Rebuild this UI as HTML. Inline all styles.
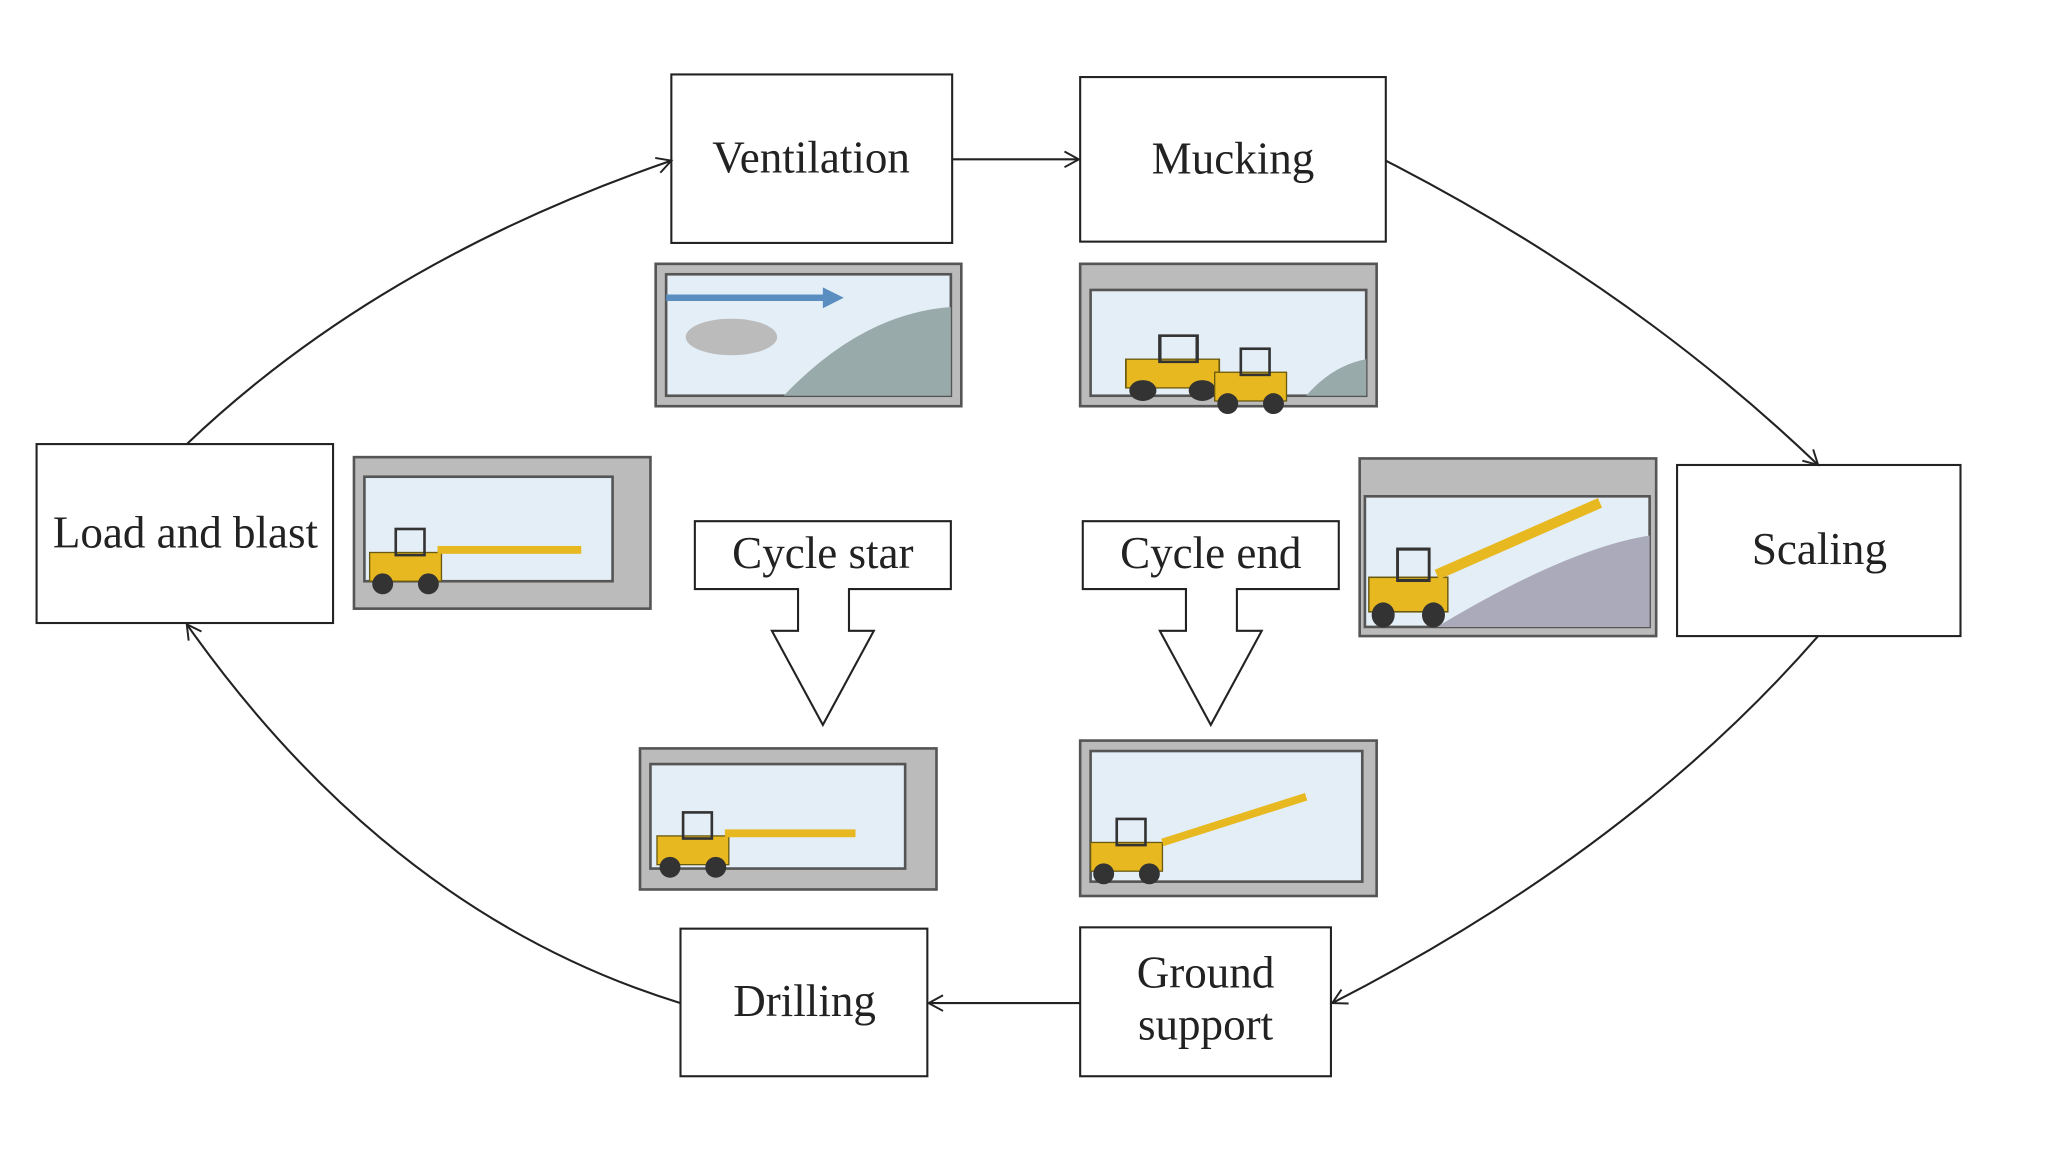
<!DOCTYPE html>
<html><head><meta charset="utf-8"><style>
html,body{margin:0;padding:0;background:#fff;width:2048px;height:1152px;overflow:hidden}
svg{display:block}
text{font-family:"Liberation Serif",serif;fill:#222}
</style></head><body>
<svg width="2048" height="1152" viewBox="0 0 1568 882" xmlns="http://www.w3.org/2000/svg">
<defs>
<marker id="a" markerWidth="14" markerHeight="14" refX="12" refY="7" orient="auto" markerUnits="userSpaceOnUse">
<path d="M1,1 L12,7 L1,13" fill="none" stroke="#222" stroke-width="1.5"/></marker>
<g id="veh">
<rect x="0" y="10" width="55" height="22" fill="#e8b820" stroke="#6a5a10" stroke-width="1"/>
<rect x="20" y="-8" width="22" height="20" fill="none" stroke="#333" stroke-width="2"/>
<circle cx="10" cy="34" r="8" fill="#333"/><circle cx="45" cy="34" r="8" fill="#333"/>
</g>
</defs>
<g fill="none" stroke="#222" stroke-width="1.6">
<rect x="514" y="57" width="215" height="129"/>
<rect x="827" y="59" width="234" height="126"/>
<rect x="1284" y="356" width="217" height="131"/>
<rect x="28" y="340" width="227" height="137"/>
<rect x="521" y="711" width="189" height="113"/>
<rect x="827" y="710" width="192" height="114"/>
<path d="M729,122 L826,122" marker-end="url(#a)"/>
<path d="M827,768 L711,768" marker-end="url(#a)"/>
<path d="M143,340 Q290,200 514,123" marker-end="url(#a)"/>
<path d="M1061,123 Q1250,220 1392,356" marker-end="url(#a)"/>
<path d="M1392,487 Q1250,650 1020,768" marker-end="url(#a)"/>
<path d="M521,768 Q300,700 143,478" marker-end="url(#a)"/>
<path d="M532,399 H728 V451 H650 V483 H669 L630,555 L591,483 H611 V451 H532 Z" fill="#fff"/>
<path d="M829,399 H1025 V451 H947 V483 H966 L927,555 L888,483 H908 V451 H829 Z" fill="#fff"/>
</g>
<g stroke="#555" stroke-width="2">
<rect x="502" y="202" width="234" height="109" fill="#bbb"/><rect x="510" y="210" width="218" height="93" fill="#e4eef6"/>
<rect x="827" y="202" width="227" height="109" fill="#bbb"/><rect x="835" y="222" width="211" height="81" fill="#e4eef6"/>
<rect x="271" y="350" width="227" height="116" fill="#bbb"/><rect x="279" y="365" width="190" height="80" fill="#e4eef6"/>
<rect x="1041" y="351" width="227" height="136" fill="#bbb"/><rect x="1045" y="380" width="218" height="100" fill="#e4eef6"/>
<rect x="490" y="573" width="227" height="108" fill="#bbb"/><rect x="498" y="585" width="195" height="80" fill="#e4eef6"/>
<rect x="827" y="567" width="227" height="119" fill="#bbb"/><rect x="835" y="575" width="208" height="100" fill="#e4eef6"/>
</g>
<path d="M510,228 H640" stroke="#5a8ec0" stroke-width="5"/><path d="M630,220 L646,228 L630,236Z" fill="#5a8ec0"/>
<ellipse cx="560" cy="258" rx="35" ry="14" fill="#bbb"/>
<path d="M600,303 Q660,240 728,235 V303Z" fill="#9aa"/>
<path d="M1000,303 Q1020,280 1046,275 V303Z" fill="#9aa"/>
<path d="M1100,480 Q1200,420 1263,410 V480Z" fill="#aab"/>
<use href="#veh" transform="translate(862,265) scale(1.3,1)"/>
<use href="#veh" transform="translate(930,275)"/>
<use href="#veh" transform="translate(283,413)"/>
<rect x="335" y="418" width="110" height="6" fill="#e8b820"/>
<use href="#veh" transform="translate(1048,430) scale(1.1,1.2)"/>
<path d="M1100,440 L1225,385" stroke="#e8b820" stroke-width="8"/>
<use href="#veh" transform="translate(503,630)"/>
<rect x="555" y="635" width="100" height="6" fill="#e8b820"/>
<use href="#veh" transform="translate(835,635)"/>
<path d="M890,645 L1000,610" stroke="#e8b820" stroke-width="6"/>
<g font-size="34.5" text-anchor="middle">
<text x="621" y="132">Ventilation</text>
<text x="944" y="133">Mucking</text>
<text x="1393" y="432">Scaling</text>
<text x="142" y="419">Load and blast</text>
<text x="616" y="778">Drilling</text>
<text x="923" y="756">Ground</text>
<text x="923" y="796">support</text>
<text x="630" y="435">Cycle star</text>
<text x="927" y="435">Cycle end</text>
</g>
</svg>
</body></html>
